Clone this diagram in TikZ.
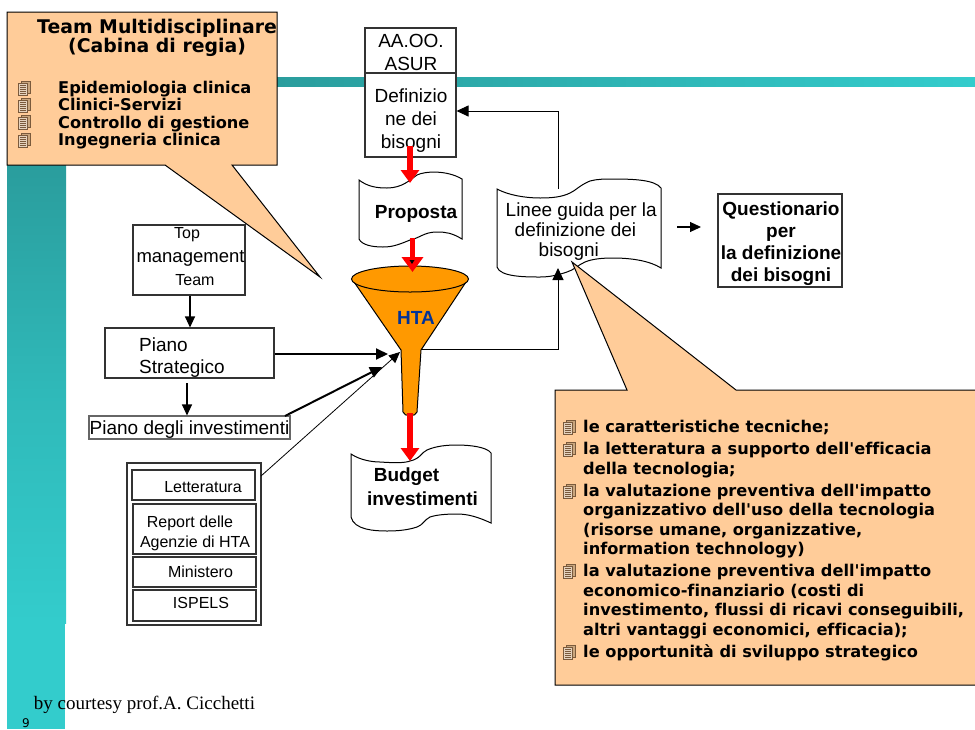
\documentclass[tikz,border=0pt]{standalone}
\usepackage{fontspec}
\setmainfont{Liberation Sans}
\newfontfamily\serifface{Liberation Serif}
\newfontfamily\calloutface[Ligatures=NoCommon]{DejaVu Sans}
\usetikzlibrary{arrows.meta,shapes.geometric}
\definecolor{tealdark}{HTML}{2A9D9D}
\definecolor{teallight}{HTML}{33CCCC}
\definecolor{calloutfill}{HTML}{FFCC99}
\definecolor{funnelfill}{HTML}{FF9900}
\definecolor{htablue}{HTML}{003399}
\definecolor{bullettan}{HTML}{C9A67E}
\definecolor{bulletline}{HTML}{7A5A3C}
\newcommand{\txt}[1]{\fontsize{#1}{#1}\selectfont}

\begin{document}
\begin{tikzpicture}[x=1pt,y=-1pt]
\tikzset{
  box/.style = {draw=black!80, line width=1.1pt, fill=white, inner sep=0pt},
  plainlabel/.style = {inner sep=0pt, font=\txt{19}},
  smalllabel/.style = {inner sep=0pt, font=\txt{16}},
  boldlabel/.style = {inner sep=0pt, font=\txt{19}\bfseries},
  paper/.style = {draw=black, line width=1pt, fill=white},
  callout/.style = {draw=black, line width=1pt, fill=calloutfill},
  calltext/.style = {inner sep=0pt, align=left, anchor=north west, font=\calloutface\bfseries\fontsize{16.2}{19.5}\selectfont},
  flow/.style = {draw=black, line width=1.1pt, -{Triangle[width=10pt,length=11pt]}},
  heavy/.style = {draw=black, line width=2pt, -{Triangle[width=11pt,length=12pt]}},
  redflow/.style = {draw=red, line width=5.5pt, -{Triangle[width=18pt,length=13pt]}},
  docbullet/.pic = {
    \draw[bulletline, fill=bullettan, line width=.5pt] (-3,-7) rectangle (6,5);
    \draw[bulletline, fill=bullettan!50!white, line width=.6pt] (-6,-5) rectangle (3,7);
    \foreach \l in {-3,-1,1,3,5} \draw[bulletline, line width=.6pt] (-4.5,\l) -- (1.5,\l);
  }
}
\useasboundingbox (0,0) rectangle (975,729);

% background bars
\shade[top color=tealdark, bottom color=teallight, middle color=tealdark!40!teallight] (7,165) rectangle (66,623);
\fill[teallight] (7,623) rectangle (65,729);
\shade[left color=tealdark, right color=teallight] (277,77) rectangle (975,86);

% callouts
\draw[callout] (7,12) -- (277,12) -- (277,165) -- (232,165) -- (320,277) -- (165,165) -- (7,165) -- cycle;
\node[calltext, anchor=center, align=center, font=\calloutface\bfseries\fontsize{18.85}{19}\selectfont] (team) at (157,38) {Team Multidisciplinare\\(Cabina di regia)};
\node[calltext] (teamlist) at (58,81) {Epidemiologia clinica\\[-2.2pt]Clinici-Servizi\\[-2.2pt]Controllo di gestione\\[-2.2pt]Ingegneria clinica};
\foreach \y in {88,105,122,140} \pic at (24.5,\y) {docbullet};

% the right callout goes in front of the guideline sheet, see below

% left column
\node[box, minimum width=112pt, minimum height=70pt] (top) at (189,260) {};
\node[smalllabel] (topa) at (187,235) {Top};
\node[inner sep=0pt, font=\txt{18.5}] (topb) at (190.5,258) {management};
\node[smalllabel] (topc) at (195,280) {Team};
\node[box, minimum width=169pt, minimum height=50pt] (strategico) at (189.5,353) {};
\node[plainlabel, anchor=west, align=left, font=\fontsize{19}{22}\selectfont] (strategicot) at (139,358) {Piano\\Strategico};
\node[box, draw=black!60, minimum width=201pt, minimum height=23pt, text depth=0pt, font=\txt{19}] (investimenti) at (189.5,427.5) {Piano degli investimenti};

\node[box, minimum width=134pt, minimum height=162pt] (fonti) at (194,544) {};
\node[box, minimum width=123pt, minimum height=30pt] (letteratura) at (193.5,485) {};
\node[smalllabel] (letteraturat) at (203,487) {Letteratura};
\node[box, minimum width=123pt, minimum height=50pt] (report) at (194.5,529) {};
\node[smalllabel] (reporta) at (190,523) {Report delle};
\node[smalllabel] (reportb) at (195,543) {Agenzie di HTA};
\node[box, minimum width=123pt, minimum height=30pt] (ministero) at (194.5,572) {};
\node[smalllabel] (ministerot) at (200.5,572) {Ministero};
\node[box, minimum width=123pt, minimum height=31pt] (ispels) at (194.5,605.5) {};
\node[smalllabel] (ispelst) at (201,603) {ISPELS};

% middle column
\node[box, minimum width=91pt, minimum height=45pt] (asur) at (410.5,50.5) {};
\node[plainlabel, align=center, font=\fontsize{19}{23}\selectfont] (asurt) at (411,52) {AA.OO.\\ASUR};
\node[box, minimum width=91pt, minimum height=84pt] (definizione) at (410.5,115) {};
\node[plainlabel, align=center, font=\fontsize{19}{23}\selectfont] (definizionet) at (411,120.5) {Definizio\\ne dei\\bisogni};

\draw[paper] (359,180) .. controls (368,187) and (378,188) .. (387,188) .. controls (402,188) and (410,180) .. (417,175) .. controls (425,171) and (447,170) .. (462,179)
  -- (462,239) .. controls (452,233) and (446,232) .. (437,232) .. controls (424,232) and (420,238) .. (410,240) .. controls (398,245) and (392,247) .. (383,247) .. controls (372,247) and (362,245) .. (359,239) -- cycle;
\node[boldlabel] (proposta) at (416,214) {Proposta};

% funnel
\draw[draw=black, line width=1pt, fill=funnelfill] (352,279) -- (401,350) -- (403,412) .. controls (404,417) and (416,417) .. (417,412) -- (421,350) -- (468,279);
\node[ellipse, draw=black, line width=1pt, fill=funnelfill, minimum width=117pt, minimum height=26pt, inner sep=0pt] (funnel) at (410,279) {};
\node[boldlabel, text=htablue] (hta) at (416,318) {HTA};

\draw[paper] (351,454) .. controls (360,460) and (372,462) .. (380,462) .. controls (395,463) and (405,463) .. (410,461) .. controls (420,459) and (422,452) .. (427,450) .. controls (436,446) and (447,445) .. (457,445) .. controls (470,445) and (487,447) .. (491,453)
  -- (491,523) .. controls (478,517) and (468,514) .. (457,514) .. controls (445,514) and (436,515) .. (430,517) .. controls (424,520) and (423,525) .. (417,527) .. controls (408,530) and (398,531) .. (387,531) .. controls (375,531) and (354,530) .. (351,517) -- cycle;
\node[boldlabel] (budgeta) at (406.5,477) {Budget};
\node[boldlabel] (budgetb) at (422.5,499) {investimenti};

% right column
\draw[paper] (497,189) .. controls (508,195) and (525,198) .. (540,198) .. controls (552,198) and (562,197) .. (570,193) .. controls (575,191) and (580,185) .. (590,181) .. controls (597,179) and (605,179) .. (613,179) .. controls (635,179) and (655,180) .. (661,188)
  -- (661,268) .. controls (650,261) and (632,258) .. (613,258) .. controls (602,258) and (592,259) .. (585,262) .. controls (578,265) and (574,270) .. (567,272) .. controls (558,275) and (550,277) .. (540,277) .. controls (526,277) and (500,277) .. (497,267) -- cycle;
\node[plainlabel, anchor=west, align=left, font=\fontsize{19}{20}\selectfont] (linee) at (505.5,231.5) {Linee guida per la\\\hspace*{9pt}definizione dei\\\hspace*{33pt}bisogni};
\node[box, line width=1.4pt, minimum width=124pt, minimum height=93pt] (questionario) at (780,240.5) {};
\node[plainlabel, align=center, font=\fontsize{19}{22}\selectfont\bfseries] (questionariot) at (781,243.5) {Questionario\\per\\la definizione\\dei bisogni};

\draw[callout] (555,390) -- (627,390) -- (572,262) -- (736,390) -- (990,390) -- (990,685) -- (555,685) -- cycle;
\node[calltext] (criteri) at (583,420) {le caratteristiche tecniche;\\[2.5pt]
la letteratura a supporto dell'efficacia\\della tecnologia;\\[2.5pt]
la valutazione preventiva dell'impatto\\organizzativo dell'uso della tecnologia\\(risorse umane, organizzative,\\information technology)\\[2.5pt]
la valutazione preventiva dell'impatto\\economico-finanziario (costi di\\investimento, flussi di ricavi conseguibili,\\altri vantaggi economici, efficacia);\\[2.5pt]
le opportunità di sviluppo strategico};
\foreach \y in {427,449,491,571,652} \pic at (569.5,\y) {docbullet};

\node[inner sep=0pt, font=\serifface\txt{19}] (courtesy) at (144.5,705) {by courtesy prof.A. Cicchetti};
\node[inner sep=0pt, font=\calloutface\txt{12}] (pagenum) at (26,723) {9};

% connectors
\coordinate (propin) at (410,183);
\coordinate (defout) at (410,146);
\coordinate (propout) at (412.5,238);
\coordinate (funin) at (412.5,272);
\coordinate (funout) at (410,413);
\coordinate (budin) at (410,461);
\coordinate (funa) at (388,354);
\coordinate (funb) at (382,367);
\coordinate (func) at (400,352);
\coordinate (funr) at (421,349.5);
\coordinate (lineein) at (558,268);
\coordinate (lineeout) at (558,189);
\coordinate (invout) at (285,416);
\coordinate (fontiout) at (261,476);
\coordinate (quesa) at (677,227);
\coordinate (quesb) at (701,227);

\draw[flow] (top.south -| 190,0) -- (strategico.north -| 190,0);
\draw[flow] (187,383) -- (investimenti.north -| 187,0);
\draw[heavy] (strategico.east |- funa) -- (funa);
\draw[heavy] (invout) -- (funb);
\draw[flow, line width=.8pt] (fontiout) -- (func);
\draw[line width=1pt, -{Triangle[width=11pt,length=12pt]}] (funr) -- (lineein |- funr) -- (lineein);
\draw[line width=1pt, -{Triangle[width=11pt,length=12pt]}] (lineeout) |- (definizione.east |- 0,111);
\draw[flow] (quesa) -- (quesb);
\draw[redflow] (defout) -- (propin);
\draw[redflow, -{Triangle[width=21pt,length=15pt]}] (propout) -- (funin);
\draw[redflow] (funout) -- (budin);
\fill[black] (409.5,260) -- (414.5,260) -- (412,264) -- cycle;
\end{tikzpicture}
\end{document}
